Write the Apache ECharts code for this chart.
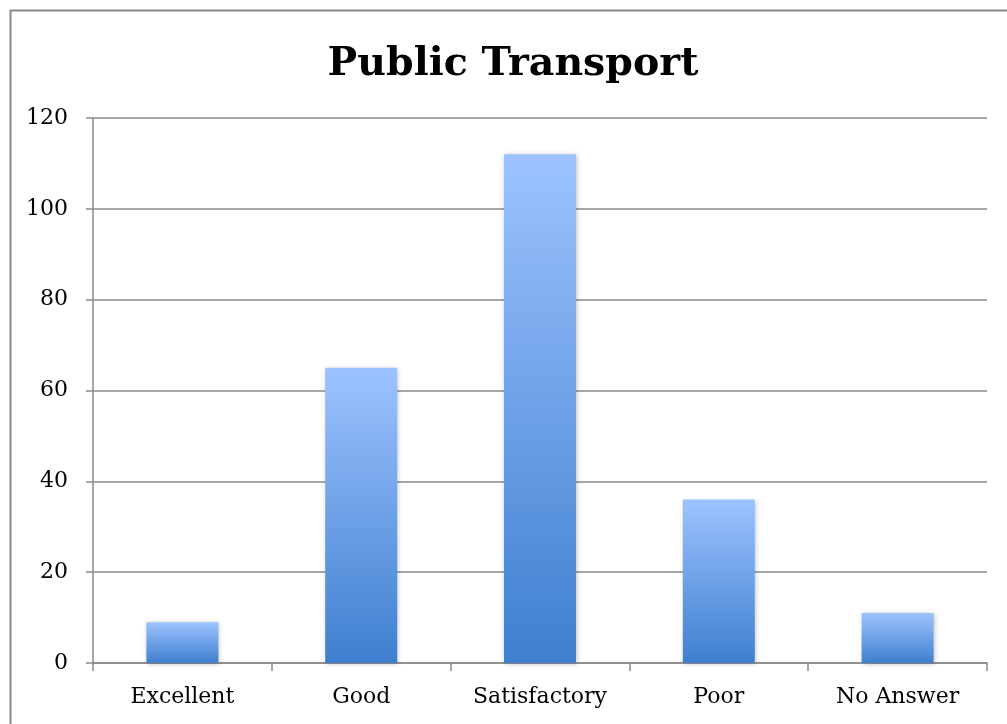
<!DOCTYPE html>
<html><head><meta charset="utf-8">
<script src="https://cdn.jsdelivr.net/npm/echarts@6/dist/echarts.min.js"></script>
<style>html,body{margin:0;padding:0;background:#fff}#c{width:1007px;height:724px}</style>
</head><body><div id="c"></div>
<script>
const categories = ['Excellent', 'Good', 'Satisfactory', 'Poor', 'No Answer'];
const values = [9, 65, 112, 36, 11];
const yTicks = [0, 20, 40, 60, 80, 100, 120];

const chart = echarts.init(document.getElementById('c'));
const font = 'DejaVu Serif';
chart.setOption({
  backgroundColor: '#fff',
  animation: false,
  title: {
    text: 'Public Transport',
    left: 508,
    textAlign: 'center',
    top: 40,
    padding: 5,
    textStyle: { fontFamily: font, fontWeight: 'bold', fontSize: 39.5, color: '#000' }
  },
  graphic: [{
    type: 'rect', left: 8, top: 8, z: 100, silent: true,
    shape: { width: 1030, height: 740 },
    style: { fill: 'none', stroke: '#8a8a8a', lineWidth: 2 }
  }],
  grid: { left: 93, right: 20, top: 118, bottom: 61 },
  xAxis: {
    type: 'category',
    data: categories,
    axisLine: { lineStyle: { color: '#8a8a8a', width: 1.5 } },
    axisTick: { show: true, length: 8, lineStyle: { color: '#8a8a8a', width: 1.5 } },
    axisLabel: { fontFamily: font, fontSize: 22, color: '#000', margin: 23 }
  },
  yAxis: {
    type: 'value',
    min: yTicks[0], max: yTicks[yTicks.length - 1], interval: 20,
    axisLine: { show: true, lineStyle: { color: '#8a8a8a', width: 1.5 } },
    axisTick: { show: true, length: 7, lineStyle: { color: '#8a8a8a', width: 1.5 } },
    splitLine: { lineStyle: { color: '#8a8a8a', width: 1.5 } },
    axisLabel: { fontFamily: font, fontSize: 22, color: '#000', margin: 25 }
  },
  series: [{
    type: 'bar',
    data: values,
    barWidth: 72,
    itemStyle: {
      color: new echarts.graphic.LinearGradient(0, 0, 0, 1, [
        { offset: 0, color: '#9cc3ff' },
        { offset: 1, color: '#3f7fcf' }
      ]),
      shadowColor: 'rgba(0,0,0,0.25)', shadowBlur: 5, shadowOffsetX: 1, shadowOffsetY: 1
    }
  }]
});
</script></body></html>
